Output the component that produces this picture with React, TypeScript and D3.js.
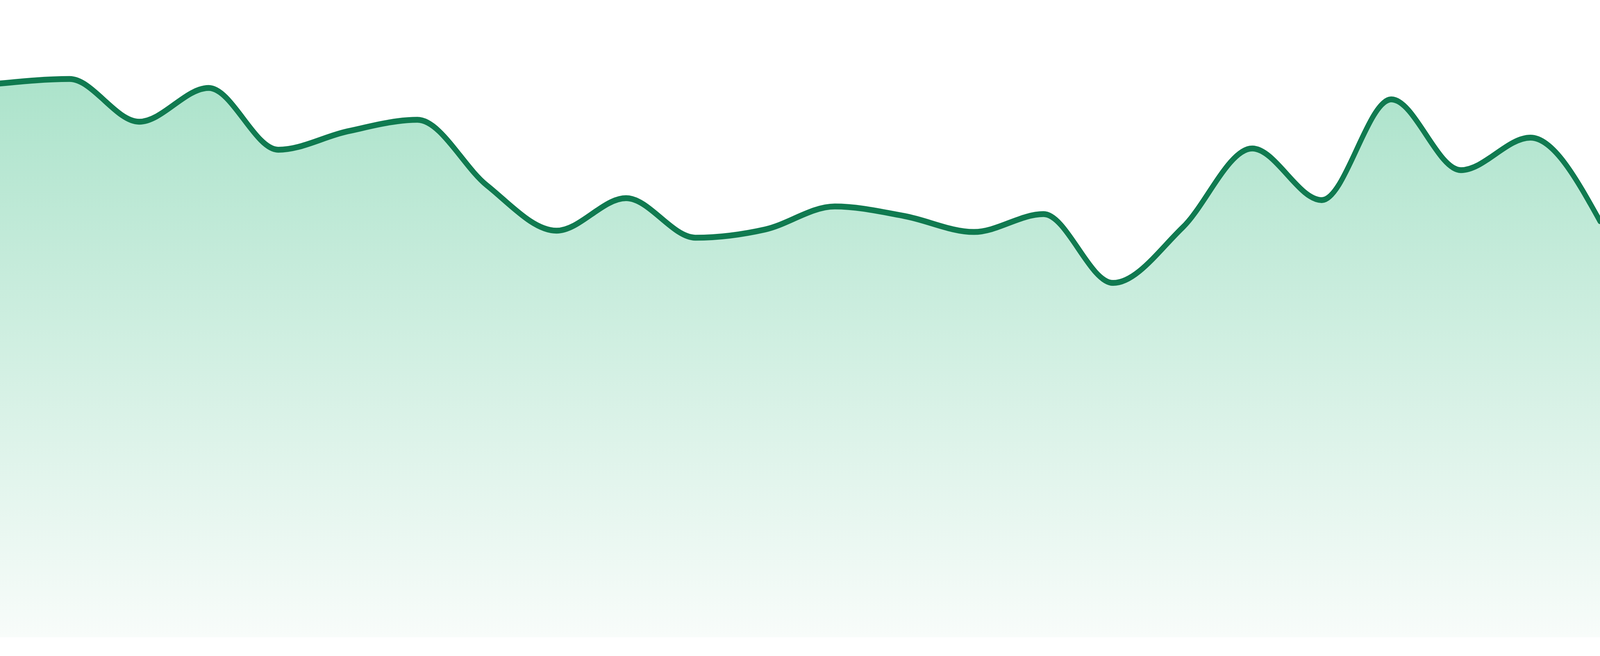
import { useEffect, useRef } from 'react';
import * as d3 from 'd3';

const WIDTH = 4800;
const HEIGHT = 1680;
const BOTTOM = 48;

// hourly readings
const hours = d3.range(24).map((h) => `${String(h).padStart(2, '0')}:00`);
const values = [
  86.9, 87.6, 80.9, 86.2, 76.5, 79.4, 81.2, 70.9, 63.8, 68.9, 62.7, 64.0,
  67.6, 66.1, 63.6, 66.4, 55.6, 64.3, 76.7, 68.6, 84.4, 73.3, 78.4, 65.3,
];

const LINE_COLOR = '#107a50';
const FILL_TOP = '#ace3cb';
const FILL_BOTTOM = '#f8fcfa';

export default function App() {
  const svgRef = useRef<SVGSVGElement>(null);

  useEffect(() => {
    const svg = d3.select(svgRef.current);
    svg.selectAll('*').remove();

    const x = d3.scalePoint<string>().domain(hours).range([0, WIDTH]);
    const y = d3.scaleLinear().domain([0, 100]).range([HEIGHT - BOTTOM, 0]);
    const points = hours.map((h, i) => ({ h, v: values[i] }));

    const grad = svg
      .append('defs')
      .append('linearGradient')
      .attr('id', 'areaFill')
      .attr('x1', 0)
      .attr('y1', 0)
      .attr('x2', 0)
      .attr('y2', 1);
    grad.append('stop').attr('offset', '0%').attr('stop-color', FILL_TOP);
    grad.append('stop').attr('offset', '100%').attr('stop-color', FILL_BOTTOM);

    const area = d3
      .area<{ h: string; v: number }>()
      .x((d) => x(d.h) ?? 0)
      .y0(y(0))
      .y1((d) => y(d.v))
      .curve(d3.curveMonotoneX);

    const line = d3
      .line<{ h: string; v: number }>()
      .x((d) => x(d.h) ?? 0)
      .y((d) => y(d.v))
      .curve(d3.curveMonotoneX);

    svg.append('path').datum(points).attr('d', area).attr('fill', 'url(#areaFill)');

    svg
      .append('path')
      .datum(points)
      .attr('d', line)
      .attr('fill', 'none')
      .attr('stroke', LINE_COLOR)
      .attr('stroke-width', 15)
      .attr('stroke-linejoin', 'round')
      .attr('stroke-linecap', 'round');
  }, []);

  // fit the drawing to whatever the viewport really is
  return (
    <svg
      ref={svgRef}
      viewBox={`0 0 ${WIDTH} ${HEIGHT}`}
      preserveAspectRatio="none"
      style={{
        position: 'absolute',
        left: 0,
        top: 0,
        width: '100vw',
        height: '100vh',
        display: 'block',
        background: '#fff',
      }}
    />
  );
}
